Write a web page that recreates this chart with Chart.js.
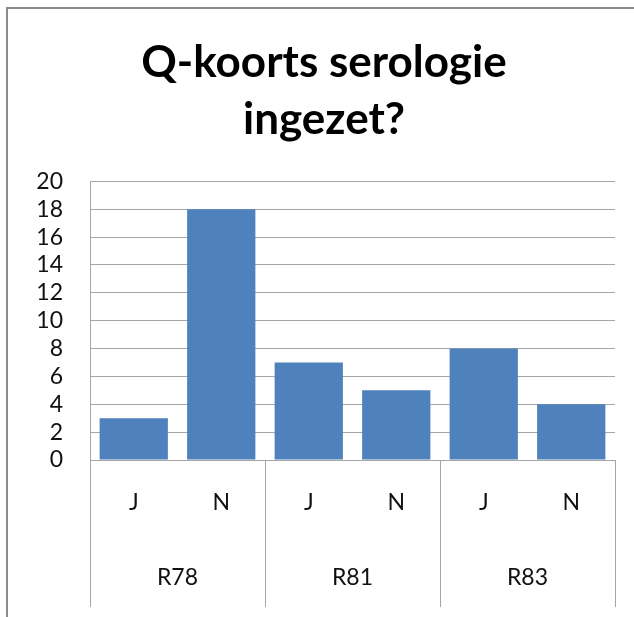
<!DOCTYPE html>
<html>
<head>
<meta charset="utf-8">
<script src="https://cdn.jsdelivr.net/npm/chart.js@4"></script>
<style>
  body { margin: 0; background: #fff; overflow: hidden; }
  #frame {
    position: absolute; left: 6px; top: 7px; width: 660px; height: 610px;
    border-left: 2px solid #8c8c8c; border-top: 2px solid #8c8c8c;
  }
  #frame canvas { display: block; }
</style>
</head>
<body>
<div id="frame"><canvas id="barChart" width="652" height="608"></canvas></div>
<script>
const answers = ["J", "N", "J", "N", "J", "N"];
const regions = ["R78", "R81", "R83"];
const counts = [3, 18, 7, 5, 8, 4];
const yTicks = [0, 2, 4, 6, 8, 10, 12, 14, 16, 18, 20];

const FONT = "Lato";
const LINE = "#a6a6a6";

// vertical lines that split the region groups under the plot
const groupLines = {
  id: "groupLines",
  afterDraw(chart) {
    const x = chart.scales.x;
    const x2 = chart.scales.x2;
    const ctx = chart.ctx;
    const per = answers.length / regions.length;
    const half = (x.getPixelForValue(1) - x.getPixelForValue(0)) / 2;
    ctx.save();
    ctx.strokeStyle = LINE;
    ctx.lineWidth = 1;
    for (let g = 0; g <= regions.length; g++) {
      const px = Math.round(x.getPixelForValue(g * per) - half) + 0.5;
      ctx.beginPath();
      ctx.moveTo(px, chart.chartArea.bottom);
      ctx.lineTo(px, x2.bottom);
      ctx.stroke();
    }
    ctx.restore();
  },
};

const ctx = document.getElementById("barChart").getContext("2d");
new Chart(ctx, {
  type: "bar",
  data: {
    labels: answers,
    datasets: [
      {
        data: counts,
        backgroundColor: "#4f81bd",
        borderWidth: 0,
        categoryPercentage: 0.78,
        barPercentage: 1,
      },
    ],
  },
  options: {
    responsive: false,
    animation: false,
    layout: { padding: { left: 25, right: 45, top: 0, bottom: 10 } },
    plugins: {
      legend: { display: false },
      tooltip: { enabled: false },
      title: {
        display: true,
        text: ["Q-koorts serologie", "ingezet?"],
        color: "#000",
        font: { family: FONT, size: 44, weight: "bold", lineHeight: 1.3 },
        padding: { top: 25, bottom: 33 },
      },
    },
    scales: {
      y: {
        min: 0,
        max: 20,
        afterBuildTicks: (s) => { s.ticks = yTicks.map((v) => ({ value: v })); },
        afterFit: (s) => { s.width = 57; },
        grid: { color: LINE, drawTicks: false },
        border: { display: true, color: LINE },
        ticks: { color: "#111", padding: 27, autoSkip: false, font: { family: FONT, size: 23 } },
      },
      x: {
        position: "bottom",
        grid: { display: false },
        border: { display: false },
        afterFit: (s) => { s.height = 75; },
        ticks: { color: "#111", padding: 21, font: { family: FONT, size: 23 } },
      },
      x2: {
        type: "category",
        position: "bottom",
        labels: regions,
        grid: { display: false },
        border: { display: false },
        afterFit: (s) => { s.height = 72; },
        ticks: { color: "#111", padding: 21, font: { family: FONT, size: 23 } },
      },
    },
  },
  plugins: [groupLines],
});
</script>
</body>
</html>
